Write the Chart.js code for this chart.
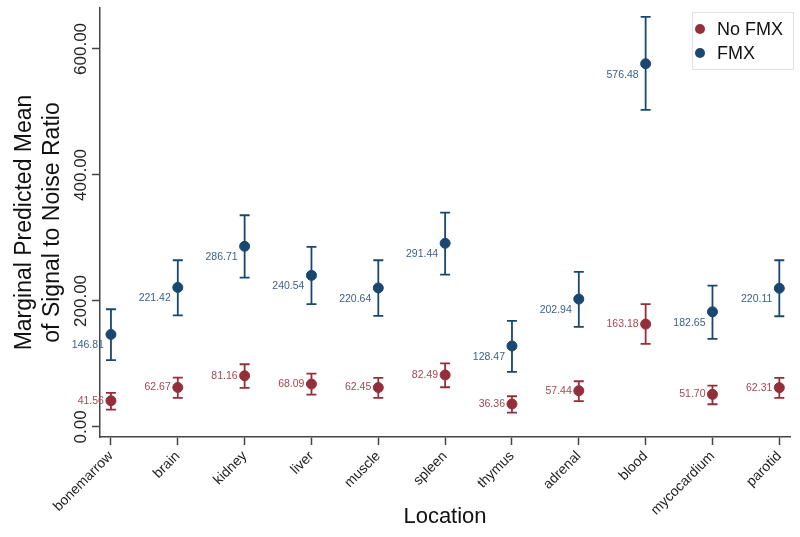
<!DOCTYPE html>
<html>
<head>
<meta charset="utf-8">
<script src="https://cdn.jsdelivr.net/npm/chart.js@4/dist/chart.umd.min.js"></script>
<style>
  html, body { margin: 0; padding: 0; background: #fff; }
  #wrap { width: 800px; height: 537px; }
</style>
</head>
<body>
<div id="wrap"><canvas id="chart"></canvas></div>
<script>
// Data
const locations = ["bonemarrow", "brain", "kidney", "liver", "muscle", "spleen", "thymus", "adrenal", "blood", "mycocardium", "parotid"];

const noFmxMean = [41.56, 62.67, 81.16, 68.09, 62.45, 82.49, 36.36, 57.44, 163.18, 51.70, 62.31];
const noFmxLow  = [27.6, 46.0, 62.0, 51.4, 46.0, 63.0, 22.8, 40.8, 131.7, 36.0, 46.0];
const noFmxHigh = [54.0, 78.4, 99.5, 84.7, 77.8, 101.0, 48.7, 72.5, 194.8, 65.7, 77.8];

const fmxMean = [146.81, 221.42, 286.71, 240.54, 220.64, 291.44, 128.47, 202.94, 576.48, 182.65, 220.11];
const fmxLow  = [105.9, 177.0, 237.0, 194.8, 176.2, 241.9, 87.3, 158.7, 503.2, 139.7, 175.7];
const fmxHigh = [186.8, 264.6, 336.0, 285.7, 264.6, 340.3, 168.3, 246.0, 650.8, 224.4, 264.6];

const yTicks = [0, 200, 400, 600];

const RED = "#932f3a";
const BLUE = "#1a476f";
const RED_TEXT = "#a5474f";
const BLUE_TEXT = "#3d618a";
const AXIS = "#444";
const FONT = "'Liberation Sans', Arial, sans-serif";

function toPoints(arr){
  return arr.map((v, i) => ({x: i, y: v}));
}

// error bars with caps, drawn under the points
const errorBars = {
  id: "errorBars",
  beforeDatasetsDraw(chart){
    const ctx = chart.ctx;
    const xs = chart.scales.x, ys = chart.scales.y;
    const sets = [[noFmxLow, noFmxHigh, RED], [fmxLow, fmxHigh, BLUE]];
    ctx.save();
    ctx.lineWidth = 1.8;
    for (const [lo, hi, col] of sets){
      ctx.strokeStyle = col;
      for (let i = 0; i < lo.length; i++){
        const x = xs.getPixelForValue(i);
        const y1 = ys.getPixelForValue(lo[i]);
        const y2 = ys.getPixelForValue(hi[i]);
        ctx.beginPath();
        ctx.moveTo(x, y1); ctx.lineTo(x, y2);
        ctx.moveTo(x - 5, y1); ctx.lineTo(x + 5, y1);
        ctx.moveTo(x - 5, y2); ctx.lineTo(x + 5, y2);
        ctx.stroke();
      }
    }
    ctx.restore();
  }
};

// value labels left of each point, y tick labels, legend box
const extras = {
  id: "extras",
  afterDraw(chart){
    const ctx = chart.ctx;
    const xs = chart.scales.x, ys = chart.scales.y;
    ctx.save();
    ctx.font = "10.5px " + FONT;
    ctx.textAlign = "right";
    ctx.textBaseline = "middle";
    for (let i = 0; i < locations.length; i++){
      const x = xs.getPixelForValue(i);
      ctx.fillStyle = RED_TEXT;
      ctx.fillText(noFmxMean[i].toFixed(2), x - 7, ys.getPixelForValue(noFmxMean[i]));
      ctx.fillStyle = BLUE_TEXT;
      ctx.fillText(fmxMean[i].toFixed(2), x - 7, ys.getPixelForValue(fmxMean[i]) + 11);
    }

    // vertical y tick labels
    ctx.font = "17px " + FONT;
    ctx.fillStyle = "#222";
    ctx.textAlign = "center";
    for (const t of ys.ticks){
      const y = ys.getPixelForValue(t.value);
      ctx.save();
      ctx.translate(81, y);
      ctx.rotate(-Math.PI / 2);
      ctx.fillText(t.value.toFixed(2), 0, 0);
      ctx.restore();
    }

    // legend
    ctx.fillStyle = "#fff";
    ctx.strokeStyle = "#e2e2e2";
    ctx.lineWidth = 1;
    ctx.fillRect(692, 12, 102, 58);
    ctx.strokeRect(692.5, 12.5, 101, 57);
    const items = chart.data.datasets;
    ctx.font = "18px " + FONT;
    ctx.textAlign = "left";
    items.forEach((ds, k) => {
      const y = 29 + k * 24;
      ctx.fillStyle = ds.backgroundColor;
      ctx.beginPath();
      ctx.arc(700, y, 5, 0, 2 * Math.PI);
      ctx.fill();
      ctx.fillStyle = "#111";
      ctx.fillText(ds.label, 717, y + 1);
    });
    ctx.restore();
  }
};

new Chart(document.getElementById("chart"), {
  type: "scatter",
  data: {
    datasets: [{
      label: "No FMX",
      data: toPoints(noFmxMean),
      backgroundColor: RED,
      borderColor: RED,
      pointRadius: 5,
      pointHoverRadius: 5
    },{
      label: "FMX",
      data: toPoints(fmxMean),
      backgroundColor: BLUE,
      borderColor: BLUE,
      pointRadius: 5,
      pointHoverRadius: 5
    }]
  },
  options: {
    responsive: true,
    maintainAspectRatio: false,
    animation: false,
    layout: { padding: { left: 0, top: 8, right: 10, bottom: 0 } },
    plugins: {
      legend: { display: false },
      tooltip: { enabled: false }
    },
    scales: {
      x: {
        type: "linear",
        min: -0.164,
        max: 10.16,
        afterBuildTicks: (s) => { s.ticks = locations.map((c, i) => ({value: i})); },
        afterFit: (s) => { s.height = 100; },
        ticks: {
          callback: (v) => locations[v],
          minRotation: 45,
          maxRotation: 45,
          padding: 3,
          color: "#222",
          font: { family: FONT, size: 14 }
        },
        grid: { drawOnChartArea: false, drawTicks: true, tickLength: 8, color: AXIS, tickWidth: 1.5 },
        border: { display: true, color: AXIS, width: 1.5 },
        title: {
          display: true,
          text: "Location",
          color: "#111",
          font: { family: FONT, size: 22, lineHeight: 1.27 },
          padding: { top: 0, bottom: 6 }
        }
      },
      y: {
        min: -16,
        max: 665,
        afterBuildTicks: (s) => { s.ticks = yTicks.map(v => ({value: v})); },
        afterFit: (s) => { s.width = 100; },
        ticks: { display: false },
        grid: { drawOnChartArea: false, drawTicks: true, tickLength: 8, color: AXIS, tickWidth: 1.5 },
        border: { display: true, color: AXIS, width: 1.5 },
        title: {
          display: true,
          text: ["Marginal Predicted Mean", "of Signal to Noise Ratio"],
          color: "#111",
          font: { family: FONT, size: 23, lineHeight: 1.22 },
          padding: { top: 11, bottom: 0 }
        }
      }
    }
  },
  plugins: [errorBars, extras]
});
</script>
</body>
</html>
